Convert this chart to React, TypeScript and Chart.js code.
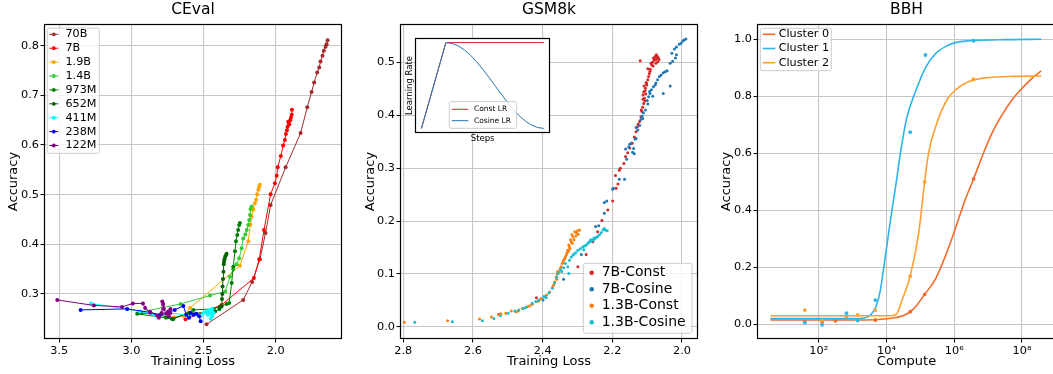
import React, { useEffect, useRef } from 'react';
import { Chart, registerables } from 'chart.js';

Chart.register(...registerables);

// ================= DATA =================
// ---- CEval: [training loss, accuracy] ----
const CEVAL_X_TICKS = [3.5, 3.0, 2.5, 2.0];
const CEVAL_Y_TICKS = [0.3, 0.4, 0.5, 0.6, 0.7, 0.8];
const CEVAL_NAMES = ['70B', '7B', '1.9B', '1.4B', '973M', '652M', '411M', '238M', '122M'];
const CEVAL_70B = [
  [2.479, 0.239], [2.225, 0.288], [2.163, 0.324], [2.109, 0.370], [2.070, 0.423], [2.035, 0.479],
  [1.931, 0.555], [1.827, 0.624], [1.781, 0.676], [1.751, 0.707], [1.733, 0.726], [1.712, 0.746],
  [1.698, 0.756], [1.689, 0.768], [1.675, 0.780], [1.666, 0.790], [1.654, 0.798], [1.647, 0.803], [1.640, 0.811],
];
const CEVAL_7B = [
  [2.625, 0.249], [2.375, 0.278], [2.151, 0.332], [2.114, 0.370], [2.081, 0.429], [2.035, 0.501],
  [2.005, 0.523], [1.993, 0.538], [1.986, 0.555], [1.964, 0.578], [1.948, 0.599], [1.936, 0.610],
  [1.929, 0.622], [1.922, 0.630], [1.917, 0.637], [1.913, 0.647], [1.905, 0.642], [1.899, 0.650],
  [1.894, 0.655], [1.889, 0.661], [1.887, 0.671],
];
const CEVAL_1_9B = [
  [2.705, 0.253], [2.641, 0.256], [2.593, 0.272], [2.248, 0.357], [2.190, 0.406], [2.175, 0.440],
  [2.167, 0.456], [2.155, 0.470], [2.144, 0.483], [2.135, 0.490], [2.128, 0.501], [2.120, 0.510],
  [2.115, 0.515], [2.110, 0.520],
];
const CEVAL_1_4B = [
  [2.947, 0.263], [2.659, 0.280], [2.455, 0.297], [2.350, 0.305], [2.317, 0.335], [2.294, 0.350],
  [2.271, 0.360], [2.253, 0.372], [2.236, 0.392], [2.225, 0.412], [2.210, 0.420], [2.201, 0.429],
  [2.190, 0.439], [2.183, 0.449], [2.178, 0.459], [2.174, 0.471], [2.167, 0.476],
];
const CEVAL_973M = [
  [2.960, 0.260], [2.760, 0.252], [2.710, 0.249], [2.570, 0.268], [2.430, 0.270], [2.386, 0.275],
  [2.340, 0.280], [2.322, 0.282], [2.305, 0.322], [2.294, 0.355], [2.282, 0.386], [2.275, 0.406],
  [2.266, 0.419], [2.260, 0.429], [2.253, 0.439], [2.248, 0.443],
];
const CEVAL_652M = [
  [2.930, 0.262], [2.800, 0.258], [2.720, 0.250], [2.600, 0.262], [2.470, 0.262], [2.420, 0.265],
  [2.390, 0.270], [2.375, 0.275], [2.372, 0.290], [2.370, 0.300], [2.368, 0.315], [2.365, 0.330],
  [2.362, 0.345], [2.360, 0.360], [2.358, 0.365], [2.355, 0.370], [2.350, 0.375], [2.345, 0.378], [2.340, 0.381],
];
const CEVAL_411M = [
  [3.280, 0.281], [3.030, 0.270], [2.940, 0.265], [2.840, 0.258], [2.750, 0.262], [2.620, 0.258],
  [2.520, 0.255], [2.500, 0.262], [2.480, 0.265], [2.470, 0.258], [2.460, 0.268], [2.450, 0.262],
  [2.440, 0.255], [2.450, 0.250], [2.430, 0.262], [2.440, 0.270],
];
const CEVAL_238M = [
  [3.352, 0.268], [3.030, 0.270], [2.870, 0.263], [2.800, 0.258], [2.750, 0.262], [2.700, 0.268],
  [2.640, 0.276], [2.620, 0.258], [2.600, 0.252], [2.590, 0.262], [2.570, 0.258], [2.550, 0.260],
  [2.530, 0.255], [2.520, 0.245],
];
const CEVAL_122M = [
  [3.514, 0.288], [3.260, 0.277], [3.065, 0.274], [2.990, 0.281], [2.920, 0.281], [2.905, 0.272],
  [2.870, 0.264], [2.820, 0.256], [2.810, 0.252], [2.790, 0.262], [2.786, 0.285], [2.780, 0.280],
  [2.775, 0.270], [2.760, 0.260], [2.745, 0.265], [2.740, 0.255], [2.730, 0.262], [2.730, 0.270],
];
const CEVAL_SERIES = [CEVAL_70B, CEVAL_7B, CEVAL_1_9B, CEVAL_1_4B, CEVAL_973M, CEVAL_652M, CEVAL_411M, CEVAL_238M, CEVAL_122M];

// ---- GSM8k: [training loss, accuracy] ----
const GSM_X_TICKS = [2.8, 2.6, 2.4, 2.2, 2.0];
const GSM_Y_TICKS = [0.0, 0.1, 0.2, 0.3, 0.4, 0.5];
const GSM_NAMES = ['7B-Const', '7B-Cosine', '1.3B-Const', '1.3B-Cosine'];
const GSM_7B_CONST = [
  [2.526, 0.024], [2.418, 0.055], [2.299, 0.114], [2.275, 0.137], [2.256, 0.161], [2.242, 0.180],
  [2.230, 0.201], [2.213, 0.221], [2.199, 0.238], [2.189, 0.262], [2.184, 0.270], [2.191, 0.286],
  [2.180, 0.296], [2.177, 0.300], [2.167, 0.309], [2.162, 0.322], [2.156, 0.329], [2.150, 0.338],
  [2.143, 0.347], [2.137, 0.359], [2.132, 0.369], [2.128, 0.378], [2.122, 0.388], [2.118, 0.397],
  [2.115, 0.407], [2.113, 0.415], [2.110, 0.422], [2.108, 0.432], [2.112, 0.438], [2.110, 0.444],
  [2.105, 0.451], [2.101, 0.457], [2.103, 0.462], [2.098, 0.467], [2.096, 0.473], [2.094, 0.479],
  [2.092, 0.483], [2.091, 0.487], [2.087, 0.495], [2.089, 0.498], [2.085, 0.500], [2.080, 0.504],
  [2.077, 0.511], [2.072, 0.512], [2.068, 0.508], [2.070, 0.501], [2.075, 0.498], [2.082, 0.508],
  [2.078, 0.505], [2.074, 0.506], [2.120, 0.503], [2.083, 0.493], [2.107, 0.427], [2.104, 0.440],
  [2.117, 0.410], [2.126, 0.383], [2.098, 0.488], [2.074, 0.514], [2.066, 0.505], [2.070, 0.510],
  [2.112, 0.430], [2.106, 0.446], [2.109, 0.455], [2.102, 0.460],
];
const GSM_7B_COSINE = [
  [2.399, 0.051], [2.340, 0.090], [2.289, 0.137], [2.248, 0.190], [2.239, 0.191], [2.223, 0.215],
  [2.216, 0.238], [2.199, 0.260], [2.197, 0.262], [2.165, 0.279], [2.159, 0.317], [2.162, 0.336],
  [2.153, 0.340], [2.146, 0.347], [2.139, 0.337], [2.132, 0.356], [2.127, 0.372], [2.132, 0.377],
  [2.122, 0.381], [2.118, 0.392], [2.113, 0.394], [2.111, 0.404], [2.105, 0.410], [2.098, 0.421],
  [2.100, 0.428], [2.096, 0.435], [2.092, 0.441], [2.084, 0.436], [2.082, 0.454], [2.077, 0.457],
  [2.075, 0.461], [2.070, 0.467], [2.065, 0.473], [2.060, 0.476], [2.054, 0.480], [2.048, 0.482],
  [2.043, 0.484], [2.054, 0.441], [2.034, 0.455], [2.034, 0.498], [2.027, 0.502], [2.019, 0.508],
  [2.029, 0.517], [2.016, 0.514], [2.022, 0.525], [2.016, 0.529], [2.008, 0.534], [2.003, 0.536],
  [1.998, 0.540], [1.994, 0.542], [1.989, 0.544], [2.088, 0.448], [2.093, 0.445], [2.115, 0.398],
  [2.150, 0.345], [2.142, 0.330], [2.135, 0.355], [2.180, 0.279], [2.137, 0.327], [2.223, 0.235],
];
const GSM_1_3B_CONST = [
  [2.797, 0.009], [2.673, 0.012], [2.581, 0.015], [2.547, 0.019], [2.525, 0.023], [2.506, 0.026],
  [2.476, 0.029], [2.458, 0.035], [2.444, 0.038], [2.430, 0.043], [2.415, 0.048], [2.404, 0.054],
  [2.389, 0.060], [2.380, 0.066], [2.371, 0.076], [2.365, 0.085], [2.361, 0.095], [2.358, 0.100],
  [2.353, 0.104], [2.347, 0.114], [2.344, 0.120], [2.340, 0.126], [2.337, 0.129], [2.332, 0.136],
  [2.330, 0.140], [2.328, 0.145], [2.323, 0.151], [2.325, 0.155], [2.318, 0.161], [2.320, 0.165],
  [2.313, 0.170], [2.316, 0.174], [2.308, 0.180], [2.303, 0.178], [2.300, 0.182], [2.294, 0.183],
  [2.298, 0.175], [2.305, 0.172], [2.310, 0.165], [2.315, 0.158], [2.322, 0.148], [2.326, 0.143],
  [2.335, 0.132], [2.342, 0.122], [2.350, 0.110], [2.357, 0.105], [2.360, 0.090], [2.368, 0.080],
  [2.395, 0.058], [2.410, 0.050], [2.437, 0.040], [2.470, 0.030], [2.490, 0.030], [2.520, 0.025],
];
const GSM_1_3B_COSINE = [
  [2.767, 0.009], [2.659, 0.010], [2.573, 0.012], [2.540, 0.016], [2.521, 0.021], [2.499, 0.026],
  [2.468, 0.032], [2.449, 0.037], [2.430, 0.045], [2.411, 0.051], [2.396, 0.057], [2.382, 0.064],
  [2.372, 0.073], [2.366, 0.083], [2.360, 0.094], [2.356, 0.101], [2.349, 0.108], [2.325, 0.101],
  [2.328, 0.114], [2.323, 0.126], [2.313, 0.136], [2.305, 0.140], [2.299, 0.145], [2.292, 0.148],
  [2.285, 0.151], [2.280, 0.153], [2.275, 0.155], [2.270, 0.158], [2.266, 0.161], [2.261, 0.162],
  [2.256, 0.164], [2.251, 0.166], [2.246, 0.169], [2.242, 0.171], [2.237, 0.174], [2.232, 0.178],
  [2.227, 0.183], [2.223, 0.186], [2.220, 0.183], [2.215, 0.182], [2.253, 0.168], [2.262, 0.165],
  [2.282, 0.146], [2.310, 0.138], [2.318, 0.132], [2.335, 0.120], [2.340, 0.112], [2.345, 0.105],
  [2.390, 0.055], [2.420, 0.048], [2.455, 0.035], [2.480, 0.030],
];
const GSM_SERIES = [GSM_7B_CONST, GSM_7B_COSINE, GSM_1_3B_CONST, GSM_1_3B_COSINE];

// ---- Inset: learning-rate schedules (step %, relative LR) ----
const LR_NAMES = ['Const LR', 'Cosine LR'];
const LR_CONST_STEPS = [0, 20, 100];
const LR_CONST_VALUES = [0, 1, 1];
const LR_COS_STEPS = [0, 20, 25, 30, 35, 40, 45, 50, 55, 60, 65, 70, 75, 80, 85, 90, 95, 100];
const LR_COS_VALUES = [0, 1, 0.99, 0.962, 0.916, 0.854, 0.778, 0.691, 0.598, 0.5, 0.402, 0.309, 0.222, 0.146, 0.084, 0.038, 0.01, 0];

// ---- BBH: log10(compute), accuracy ----
const BBH_NAMES = ['Cluster 0', 'Cluster 1', 'Cluster 2'];
const BBH_X_TICK_EXPONENTS = [2, 4, 6, 8];
const BBH_Y_TICKS = [0.0, 0.2, 0.4, 0.6, 0.8, 1.0];
const BBH_C0_FIT_LOG10 = [0.575, 2, 3, 3.67, 4.2, 4.5, 4.7, 4.9, 5.125, 5.44, 5.73, 6.0, 6.32, 6.57, 6.82, 7.11, 7.41, 7.7, 8.0, 8.29, 8.565];
const BBH_C0_FIT_ACC = [0.015, 0.015, 0.015, 0.016, 0.022, 0.031, 0.044, 0.068, 0.105, 0.158, 0.237, 0.325, 0.436, 0.51, 0.588, 0.67, 0.735, 0.787, 0.828, 0.863, 0.889];
const BBH_C1_FIT_LOG10 = [0.575, 2, 3, 3.35, 3.55, 3.7, 3.82, 3.92, 4.04, 4.16, 4.29, 4.41, 4.6, 4.85, 5.15, 5.45, 5.8, 6.1, 6.6, 7.5, 8.565];
const BBH_C1_FIT_ACC = [0.02, 0.02, 0.02, 0.022, 0.035, 0.065, 0.12, 0.2, 0.3, 0.4, 0.5, 0.6, 0.725, 0.815, 0.9, 0.95, 0.978, 0.99, 0.996, 0.999, 1.0];
const BBH_C2_FIT_LOG10 = [0.575, 2, 3, 4.0, 4.2, 4.3, 4.46, 4.7, 4.95, 5.125, 5.24, 5.44, 5.78, 6.03, 6.42, 7.0, 7.8, 8.565];
const BBH_C2_FIT_ACC = [0.03, 0.03, 0.03, 0.03, 0.031, 0.036, 0.085, 0.17, 0.32, 0.5, 0.6, 0.69, 0.787, 0.822, 0.851, 0.866, 0.87, 0.871];
const BBH_C0_PTS_LOG10 = [1.59, 2.1, 2.49, 3.67, 4.7, 5.125, 6.57];
const BBH_C0_PTS_ACC = [0.01, 0.008, 0.012, 0.015, 0.044, 0.105, 0.51];
const BBH_C1_PTS_LOG10 = [1.59, 2.1, 2.82, 3.15, 3.67, 4.7, 5.15, 6.57];
const BBH_C1_PTS_ACC = [0.006, -0.002, 0.039, 0.013, 0.085, 0.674, 0.945, 0.995];
const BBH_C2_PTS_LOG10 = [1.59, 2.1, 2.82, 3.15, 3.67, 4.7, 5.125, 6.57];
const BBH_C2_PTS_ACC = [0.05, 0.013, 0.027, 0.033, 0.05, 0.169, 0.5, 0.86];
const BBH_FITS = [[BBH_C0_FIT_LOG10, BBH_C0_FIT_ACC], [BBH_C1_FIT_LOG10, BBH_C1_FIT_ACC], [BBH_C2_FIT_LOG10, BBH_C2_FIT_ACC]];
const BBH_POINTS = [[BBH_C0_PTS_LOG10, BBH_C0_PTS_ACC], [BBH_C1_PTS_LOG10, BBH_C1_PTS_ACC], [BBH_C2_PTS_LOG10, BBH_C2_PTS_ACC]];

// ================= STYLE =================
const FONT = '"DejaVu Sans", sans-serif';
const GRID = '#c6c6c6';
const TICK_FONT = 11.3;
const CEVAL_COLORS = ['#a52a2a', '#ff0000', '#ffa500', '#32cd32', '#008000', '#006400', '#00ffff', '#0000ff', '#800080'];
const GSM_COLORS = ['#d62728', '#1f77b4', '#ff7f0e', '#17becf'];
const LR_COLORS = ['#d62728', '#1f77b4'];
const BBH_COLORS = ['#f26b2a', '#2bb5e8', '#ffa033'];
const SUP: Record<string, string> = { '0': '⁰', '1': '¹', '2': '²', '3': '³', '4': '⁴', '5': '⁵', '6': '⁶', '7': '⁷', '8': '⁸', '9': '⁹', '-': '⁻' };

const toXY = (pts: number[][]) => pts.map(([x, y]) => ({ x, y }));
const zipXY = (xs: number[], ys: number[]) => xs.map((x, i) => ({ x, y: ys[i] }));
const zipLogXY = (ls: number[], ys: number[]) => ls.map((l, i) => ({ x: Math.pow(10, l), y: ys[i] }));

function axis(cfg: any) {
  return {
    type: cfg.type || 'linear',
    min: cfg.min,
    max: cfg.max,
    reverse: !!cfg.reverse,
    afterBuildTicks: (s: any) => {
      s.ticks = cfg.ticks.map((v: number) => ({ value: v }));
    },
    afterFit: (s: any) => {
      if (cfg.horizontal) s.height = cfg.size;
      else s.width = cfg.size;
    },
    ticks: {
      callback: (v: any) => cfg.fmt(Number(v)),
      autoSkip: false,
      maxRotation: 0,
      minRotation: 0,
      padding: 1.5,
      color: '#000',
      font: { size: TICK_FONT, family: FONT },
    },
    grid: { color: GRID, lineWidth: 1.1, tickColor: '#000', tickLength: 3.5, tickWidth: 1 },
    border: { display: false },
    title: { display: true, text: cfg.title, color: '#000', font: { size: 13, family: FONT }, padding: cfg.titlePad },
  };
}

const framePlugin = {
  id: 'frame',
  afterDatasetsDraw(chart: any) {
    const { ctx, chartArea: a } = chart;
    ctx.save();
    ctx.strokeStyle = '#000';
    ctx.lineWidth = 1.2;
    const l = Math.round(a.left) + 0.5, t = Math.round(a.top) + 0.5;
    const r = Math.round(a.right) - 0.5, b = Math.round(a.bottom) - 0.5;
    ctx.strokeRect(l, t, r - l, b - t);
    ctx.restore();
  },
};

const whiteArea = {
  id: 'whiteArea',
  beforeDraw(chart: any) {
    const { ctx, chartArea: a } = chart;
    ctx.save();
    ctx.fillStyle = '#fff';
    ctx.fillRect(a.left, a.top, a.right - a.left, a.bottom - a.top);
    ctx.restore();
  },
};

function makeLegend(cfg: any) {
  return {
    id: cfg.id,
    afterDraw(chart: any) {
      const ctx = chart.ctx;
      const [bx, by, bw, bh] = cfg.box;
      ctx.save();
      ctx.beginPath();
      ctx.roundRect(bx, by, bw, bh, 2);
      ctx.fillStyle = 'rgba(255,255,255,0.8)';
      ctx.fill();
      ctx.strokeStyle = '#cccccc';
      ctx.lineWidth = 1;
      ctx.stroke();
      ctx.font = `${cfg.fontSize}px ${FONT}`;
      ctx.textBaseline = 'middle';
      ctx.textAlign = 'left';
      cfg.items.forEach((it: any, i: number) => {
        const y = cfg.rowY0 + i * cfg.rowGap;
        if (cfg.lineX0 !== undefined) {
          ctx.beginPath();
          ctx.moveTo(cfg.lineX0, y);
          ctx.lineTo(cfg.lineX1, y);
          ctx.strokeStyle = it.color;
          ctx.lineWidth = cfg.lineWidth || 1;
          ctx.stroke();
        }
        if (cfg.markerR) {
          ctx.beginPath();
          ctx.arc(cfg.markerX, y, cfg.markerR, 0, Math.PI * 2);
          ctx.fillStyle = it.color;
          ctx.fill();
        }
        ctx.fillStyle = '#000';
        ctx.fillText(it.label, cfg.textX, y);
      });
      ctx.restore();
    },
  };
}

const titleOpts = (text: string) => ({
  display: true,
  text,
  fullSize: false,
  color: '#000',
  font: { size: 15.5, family: FONT, weight: 'normal' },
  padding: { top: 0.4, bottom: 5 },
});

const baseOptions = (rightPad: number) => ({
  animation: false,
  responsive: false,
  devicePixelRatio: 1,
  events: [],
  layout: { padding: { top: 0, right: rightPad, bottom: 0, left: 0 } },
});

const fmt1 = (v: number) => v.toFixed(1);

function cevalConfig(): any {
  return {
    type: 'scatter',
    data: {
      datasets: CEVAL_SERIES.map((s, i) => ({
        label: CEVAL_NAMES[i],
        data: toXY(s),
        showLine: true,
        borderColor: CEVAL_COLORS[i],
        backgroundColor: CEVAL_COLORS[i],
        borderWidth: 1,
        pointRadius: 2,
        pointBorderWidth: 0,
        pointBackgroundColor: CEVAL_COLORS[i],
        order: -i,
      })),
    },
    options: {
      ...baseOptions(9),
      plugins: { legend: { display: false }, tooltip: { enabled: false }, title: titleOpts('CEval') },
      scales: {
        x: axis({ min: 1.54, max: 3.606, reverse: true, ticks: CEVAL_X_TICKS, fmt: fmt1, title: 'Training Loss', titlePad: { top: 0, bottom: 4.5 }, size: 35, horizontal: true }),
        y: axis({ min: 0.2094, max: 0.8437, ticks: CEVAL_Y_TICKS, fmt: fmt1, title: 'Accuracy', titlePad: { top: 5.5, bottom: 0 }, size: 44, horizontal: false }),
      },
    },
    plugins: [
      framePlugin,
      makeLegend({
        id: 'cevalLegend', box: [47.3, 28, 52, 125.3], rowY0: 34.3, rowGap: 13.9, fontSize: 11.2,
        lineX0: 49.3, lineX1: 58.3, lineWidth: 1, markerX: 53.8, markerR: 1.9, textX: 65.5,
        items: CEVAL_NAMES.map((n, i) => ({ label: n, color: CEVAL_COLORS[i] })),
      }),
    ],
  };
}

function gsmConfig(): any {
  return {
    type: 'scatter',
    data: {
      datasets: GSM_SERIES.map((s, i) => ({
        label: GSM_NAMES[i],
        data: toXY(s),
        showLine: false,
        backgroundColor: GSM_COLORS[i],
        borderColor: GSM_COLORS[i],
        pointRadius: 1.5,
        pointBorderWidth: 0,
        order: -i,
      })),
    },
    options: {
      ...baseOptions(3.3),
      plugins: { legend: { display: false }, tooltip: { enabled: false }, title: titleOpts('GSM8k') },
      scales: {
        x: axis({ min: 1.9542, max: 2.8094, reverse: true, ticks: GSM_X_TICKS, fmt: fmt1, title: 'Training Loss', titlePad: { top: 0, bottom: 4.5 }, size: 35, horizontal: true }),
        y: axis({ min: -0.0227, max: 0.5723, ticks: GSM_Y_TICKS, fmt: fmt1, title: 'Accuracy', titlePad: { top: 11.4, bottom: 0 }, size: 49, horizontal: false }),
      },
    },
    plugins: [
      framePlugin,
      makeLegend({
        id: 'gsmLegend', box: [232.3, 263.3, 108.7, 70], rowY0: 272.7, rowGap: 16.55, fontSize: 14,
        markerX: 240.7, markerR: 2.3, textX: 250.7,
        items: GSM_NAMES.map((n, i) => ({ label: n, color: GSM_COLORS[i] })),
      }),
    ],
  };
}

function insetConfig(): any {
  const hidden = (title: string, pad: any, size: number, horizontal: boolean, min: number, max: number) => ({
    type: 'linear',
    min,
    max,
    ticks: { display: false },
    grid: { display: false, drawTicks: false },
    border: { display: false },
    title: { display: true, text: title, color: '#000', font: { size: 8.5, family: FONT }, padding: pad },
    afterFit: (s: any) => {
      if (horizontal) s.height = size;
      else s.width = size;
    },
  });
  return {
    type: 'scatter',
    data: {
      datasets: [
        { label: LR_NAMES[0], data: zipXY(LR_CONST_STEPS, LR_CONST_VALUES), showLine: true, borderColor: LR_COLORS[0], borderWidth: 1, pointRadius: 0, order: 1 },
        { label: LR_NAMES[1], data: zipXY(LR_COS_STEPS, LR_COS_VALUES), showLine: true, borderColor: LR_COLORS[1], borderWidth: 1, pointRadius: 0, order: 0 },
      ],
    },
    options: {
      animation: false,
      responsive: false,
      devicePixelRatio: 1,
      events: [],
      layout: { padding: { top: 8.3, right: 10, bottom: 0, left: 0 } },
      plugins: { legend: { display: false }, tooltip: { enabled: false }, title: { display: false } },
      scales: {
        x: hidden('Steps', { top: 0, bottom: 1.6 }, 12.3, true, -5, 105),
        y: hidden('Learning Rate', { top: 4.2, bottom: 0 }, 15.3, false, -0.05, 1.05),
      },
    },
    plugins: [
      whiteArea,
      framePlugin,
      makeLegend({
        id: 'lrLegend', box: [49.3, 71.7, 67.4, 26.6], rowY0: 79.3, rowGap: 11.4, fontSize: 7.5,
        lineX0: 51.7, lineX1: 68.3, lineWidth: 1, textX: 74,
        items: LR_NAMES.map((n, i) => ({ label: n, color: LR_COLORS[i] })),
      }),
    ],
  };
}

function bbhConfig(): any {
  const datasets: any[] = [];
  BBH_NAMES.forEach((name, i) => {
    datasets.push({
      label: name,
      data: zipLogXY(BBH_FITS[i][0], BBH_FITS[i][1]),
      showLine: true,
      borderColor: BBH_COLORS[i],
      borderWidth: 1.6,
      pointRadius: 0,
      cubicInterpolationMode: 'monotone',
      order: -2 * i,
    });
    datasets.push({
      label: name + ' data',
      data: zipLogXY(BBH_POINTS[i][0], BBH_POINTS[i][1]),
      showLine: false,
      backgroundColor: BBH_COLORS[i],
      borderColor: BBH_COLORS[i],
      pointRadius: 1.9,
      pointBorderWidth: 0,
      order: -2 * i - 1,
    });
  });
  const supFmt = (v: number) => '10' + String(Math.round(Math.log10(v))).split('').map((c) => SUP[c] || c).join('');
  return {
    type: 'scatter',
    data: { datasets },
    options: {
      ...baseOptions(6),
      plugins: { legend: { display: false }, tooltip: { enabled: false }, title: titleOpts('BBH') },
      scales: {
        x: axis({
          type: 'logarithmic', min: Math.pow(10, 0.179), max: Math.pow(10, 9.002),
          ticks: BBH_X_TICK_EXPONENTS.map((e) => Math.pow(10, e)), fmt: supFmt,
          title: 'Compute', titlePad: { top: 0, bottom: 4.5 }, size: 35, horizontal: true,
        }),
        y: axis({ min: -0.0516, max: 1.0537, ticks: BBH_Y_TICKS, fmt: fmt1, title: 'Accuracy', titlePad: { top: 16.7, bottom: 0 }, size: 55, horizontal: false }),
      },
    },
    plugins: [
      framePlugin,
      makeLegend({
        id: 'bbhLegend', box: [58.3, 28.3, 71, 42.4], rowY0: 34.3, rowGap: 14.2, fontSize: 11.2,
        lineX0: 60.7, lineX1: 73.3, lineWidth: 1.6, textX: 76.7,
        items: BBH_NAMES.map((n, i) => ({ label: n, color: BBH_COLORS[i] })),
      }),
    ],
  };
}

export default function App() {
  const aRef = useRef<HTMLCanvasElement>(null);
  const bRef = useRef<HTMLCanvasElement>(null);
  const insetRef = useRef<HTMLCanvasElement>(null);
  const cRef = useRef<HTMLCanvasElement>(null);

  useEffect(() => {
    const charts = [
      new Chart(aRef.current as HTMLCanvasElement, cevalConfig()),
      new Chart(bRef.current as HTMLCanvasElement, gsmConfig()),
      new Chart(insetRef.current as HTMLCanvasElement, insetConfig()),
      new Chart(cRef.current as HTMLCanvasElement, bbhConfig()),
    ];
    return () => charts.forEach((c) => c.destroy());
  }, []);

  return (
    <div style={{ position: 'absolute', left: 0, top: 0, width: 1053, height: 374, overflow: 'hidden', background: '#fff' }}>
      <canvas ref={aRef} width={351} height={374} style={{ position: 'absolute', left: 0, top: 0, width: 351, height: 374 }} />
      <canvas ref={bRef} width={351} height={374} style={{ position: 'absolute', left: 351, top: 0, width: 351, height: 374 }} />
      <canvas ref={insetRef} width={160} height={115} style={{ position: 'absolute', left: 400, top: 30, width: 160, height: 115 }} />
      <canvas ref={cRef} width={360} height={374} style={{ position: 'absolute', left: 702, top: 0, width: 360, height: 374 }} />
    </div>
  );
}
